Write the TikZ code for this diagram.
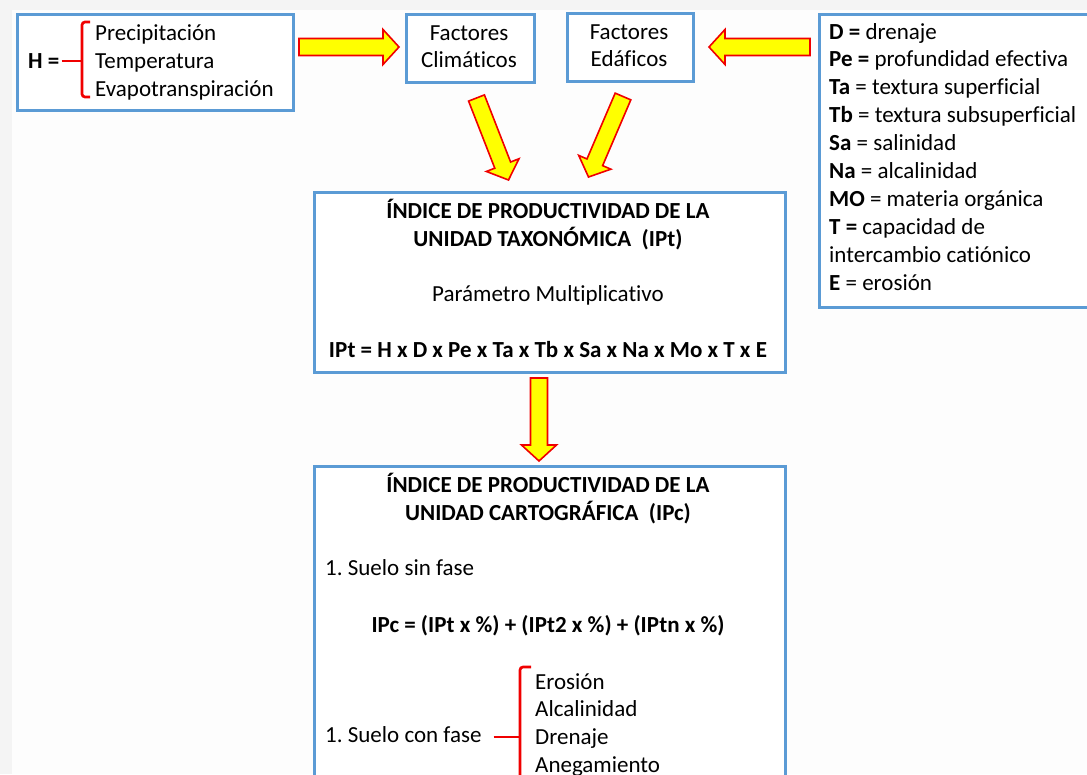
\documentclass[tikz,border=0pt]{standalone}
\usepackage{fontspec}
\setmainfont[Ligatures=NoCommon]{Carlito}
\usepackage{tikz}
\usetikzlibrary{positioning,calc}
\definecolor{IP_blue}{RGB}{91,155,213}
\definecolor{IP_red}{RGB}{240,0,0}
\definecolor{IP_yellow}{RGB}{255,255,0}
\definecolor{IP_grey}{RGB}{244,244,244}
\definecolor{IP_white}{RGB}{253,253,253}
\frenchspacing
\newcommand{\blockarrow}[2]{%
  \path ($(#2)!16pt!(#1)$) coordinate (headbase);
  \draw[yarrow] ($(#1)!8.5pt!90:(#2)$) -- ($(headbase)!8.5pt!90:(#2)$)
    -- ($(headbase)!17.5pt!90:(#2)$) -- (#2)
    -- ($(headbase)!17.5pt!-90:(#2)$) -- ($(headbase)!8.5pt!-90:(#2)$)
    -- ($(#1)!8.5pt!-90:(#2)$) -- cycle;
}
\begin{document}
\begin{tikzpicture}[x=1pt,y=-1pt,
    panel/.style={draw=IP_blue, line width=3pt, fill=white, anchor=north west, inner sep=0pt},
    txt/.style={inner sep=0pt, font=\fontsize{23}{28}\selectfont},
    bracket/.style={draw=IP_red, line width=2.7pt, rounded corners=3pt},
    yarrow/.style={draw=IP_red, fill=IP_yellow, line width=1.6pt, line join=miter}]
        % Page
        \useasboundingbox (0,0) rectangle (1087,774);
        \clip (0,0) rectangle (1087,774);
        \fill[IP_grey] (0,0) rectangle (1087,774);
        \fill[IP_white] (12,10) rectangle (1087,774);
        % Boxes
        \node[panel, minimum width=276pt, minimum height=96pt] (hbox) at (16,13) {};
        \node[panel, minimum width=128pt, minimum height=68pt] (clim) at (405,13) {};
        \node[panel, minimum width=126pt, minimum height=68pt] (edaf) at (566,12) {};
        \node[panel, minimum width=290pt, minimum height=293pt] (leyenda) at (818,13) {};
        \node[panel, minimum width=471pt, minimum height=180pt] (ipt) at (313,191) {};
        \node[panel, minimum width=471pt, minimum height=340pt] (ipc) at (313,465) {};
        % H box
        \node[txt, anchor=base west] (hname) at (28,68) {\textbf{H =}};
        \foreach \t [count=\i from 0] in {Precipitación, Temperatura, Evapotranspiración}
            \node[txt, anchor=base west] (hvar\i) at (95,40+28*\i) {\t};
        \coordinate (hb) at (82,61);
        \draw[bracket] (90,22) -- (82,22) -- (82,97) -- (90,97);
        \draw[bracket] ([xshift=2pt]hname.east |- hb) -- (hb);
        % Factor boxes
        \node[txt, anchor=base] (clim1) at (469,40) {Factores};
        \node[txt, anchor=base] (clim2) at (469,67) {Climáticos};
        \node[txt, anchor=base] (edaf1) at (629,39) {Factores};
        \node[txt, anchor=base] (edaf2) at (629,66) {Edáficos};
        % Legend
        \foreach \t [count=\i from 0] in {{\textbf{D =} drenaje},
                {\textbf{Pe =} profundidad efectiva}, {\textbf{Ta} = textura superficial},
                {\textbf{Tb} = textura subsuperficial}, {\textbf{Sa} = salinidad},
                {\textbf{Na} = alcalinidad}, {\textbf{MO} = materia orgánica},
                {\textbf{T =} capacidad de}, {intercambio catiónico}, {\textbf{E} = erosión}}
            \node[txt, anchor=base west] (ley\i) at (829,39+27.9*\i) {\t};
        % IPt box
        \node[txt, anchor=base] (ipt1) at (548,218) {\textbf{ÍNDICE DE PRODUCTIVIDAD DE LA}};
        \node[txt, anchor=base] (ipt2) at (548,246) {\textbf{UNIDAD TAXONÓMICA\ \ (IPt)}};
        \node[txt, anchor=base] (ipt3) at (548,301) {Parámetro Multiplicativo};
        \node[txt, anchor=base] (ipt4) at (548,357) {\textbf{IPt = H x D x Pe x Ta x Tb x Sa x Na x Mo x T x E}};
        % IPc box
        \node[txt, anchor=base] (ipc1) at (548,492) {\textbf{ÍNDICE DE PRODUCTIVIDAD DE LA}};
        \node[txt, anchor=base] (ipc2) at (548,520) {\textbf{UNIDAD CARTOGRÁFICA\ \ (IPc)}};
        \node[txt, anchor=base west] (ipc3) at (325,575) {1. Suelo sin fase};
        \node[txt, anchor=base] (ipc4) at (548,632) {\textbf{IPc = (IPt x \%) + (IPt2 x \%) + (IPtn x \%)}};
        \node[txt, anchor=base west] (ipc5) at (325,742) {1. Suelo con fase};
        \foreach \t [count=\i from 0] in {Erosión, Alcalinidad, Drenaje, Anegamiento}
            \node[txt, anchor=base west] (fase\i) at (535,689+27.7*\i) {\t};
        \coordinate (fb) at (520,737);
        \draw[bracket] (531,667) -- (520,667) -- (520,810);
        \draw[bracket] ([xshift=12pt]ipc5.east |- fb) -- (fb);
        % Arrows
        \coordinate (a1s) at ($(hbox.east |- clim.west)+(4,-1.5)$);
        \coordinate (a1e) at ($(clim.west)+(-6,-1.5)$);
        \coordinate (a2s) at ($(leyenda.west |- edaf.east)+(-8,-0.5)$);
        \coordinate (a2e) at ($(edaf.east)+(14,-0.5)$);
        \coordinate (a3s) at ($(clim.south)+(6,14)$);
        \coordinate (a3e) at ($(ipt.north)+(-41.5,-11)$);
        \coordinate (a4s) at ($(edaf.south)+(-7.5,13.5)$);
        \coordinate (a4e) at ($(ipt.north)+(38.5,-14)$);
        \coordinate (a5s) at ($(ipt.south)+(-11,4)$);
        \coordinate (a5e) at ($(ipc.north)+(-11,-4)$);
        \blockarrow{a1s}{a1e}
        \blockarrow{a2s}{a2e}
        \blockarrow{a3s}{a3e}
        \blockarrow{a4s}{a4e}
        \blockarrow{a5s}{a5e}
\end{tikzpicture}
\end{document}
